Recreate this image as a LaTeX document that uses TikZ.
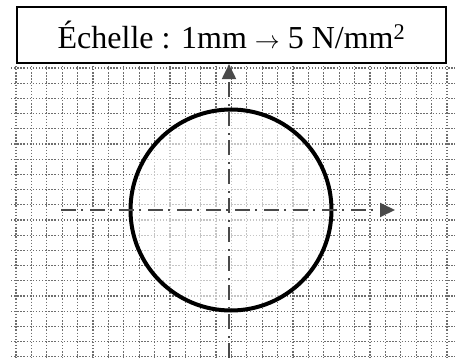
\documentclass[tikz,border=0pt]{standalone}
\usepackage{fontspec}
\setmainfont{Liberation Serif}
\usetikzlibrary{positioning,arrows.meta,calc}
\definecolor{grisaxe}{HTML}{4A4A4A}
\definecolor{grisgrille}{HTML}{6E6E6E}
\tikzset{
  cadre/.style   = {draw, line width=2.2pt, minimum width=429pt, minimum height=56pt,
                    inner sep=0pt, font=\fontsize{32}{38}\selectfont},
  grille/.style  = {grisgrille, line width=1.2pt, dash pattern=on 1.4pt off 1.7pt},
  axe/.style     = {grisaxe, line width=2pt, dash pattern=on 15pt off 5pt on 2pt off 7pt,
                    -{Triangle[length=15pt,width=14pt]}},
  contour/.style = {draw, circle, line width=4pt, minimum size=201pt, inner sep=0pt}
}
\begin{document}
\begin{tikzpicture}[x=1pt,y=-1pt]
    \useasboundingbox (0,0) rectangle (461,358);

    % quadrillage
    \foreach \k in {0,...,19}
        \draw[grille] (11,{68+15.2*\k}) -- (455,{68+15.2*\k});
    \foreach \k in {0,...,28}
        \draw[grille] ({16+15.39*\k},66) -- ({16+15.39*\k},358);

    \node[cadre, fill=white] (echelle) at (231.5,35)
        {Échelle : 1mm $\rightarrow$ 5 N/mm\textsuperscript{2}};

    \fill[white, opacity=0.6] (231,210) circle (99pt);
    \node[contour] (section) at (231,210) {};

    % axes
    \coordinate (ybas) at (229,358);
    \coordinate (xgauche) at (61,210);
    \coordinate (xdroite) at (395,210);
    \draw[axe] (ybas) -- (ybas |- echelle.south);
    \draw[axe] (xgauche) -- (xdroite);
\end{tikzpicture}
\end{document}
